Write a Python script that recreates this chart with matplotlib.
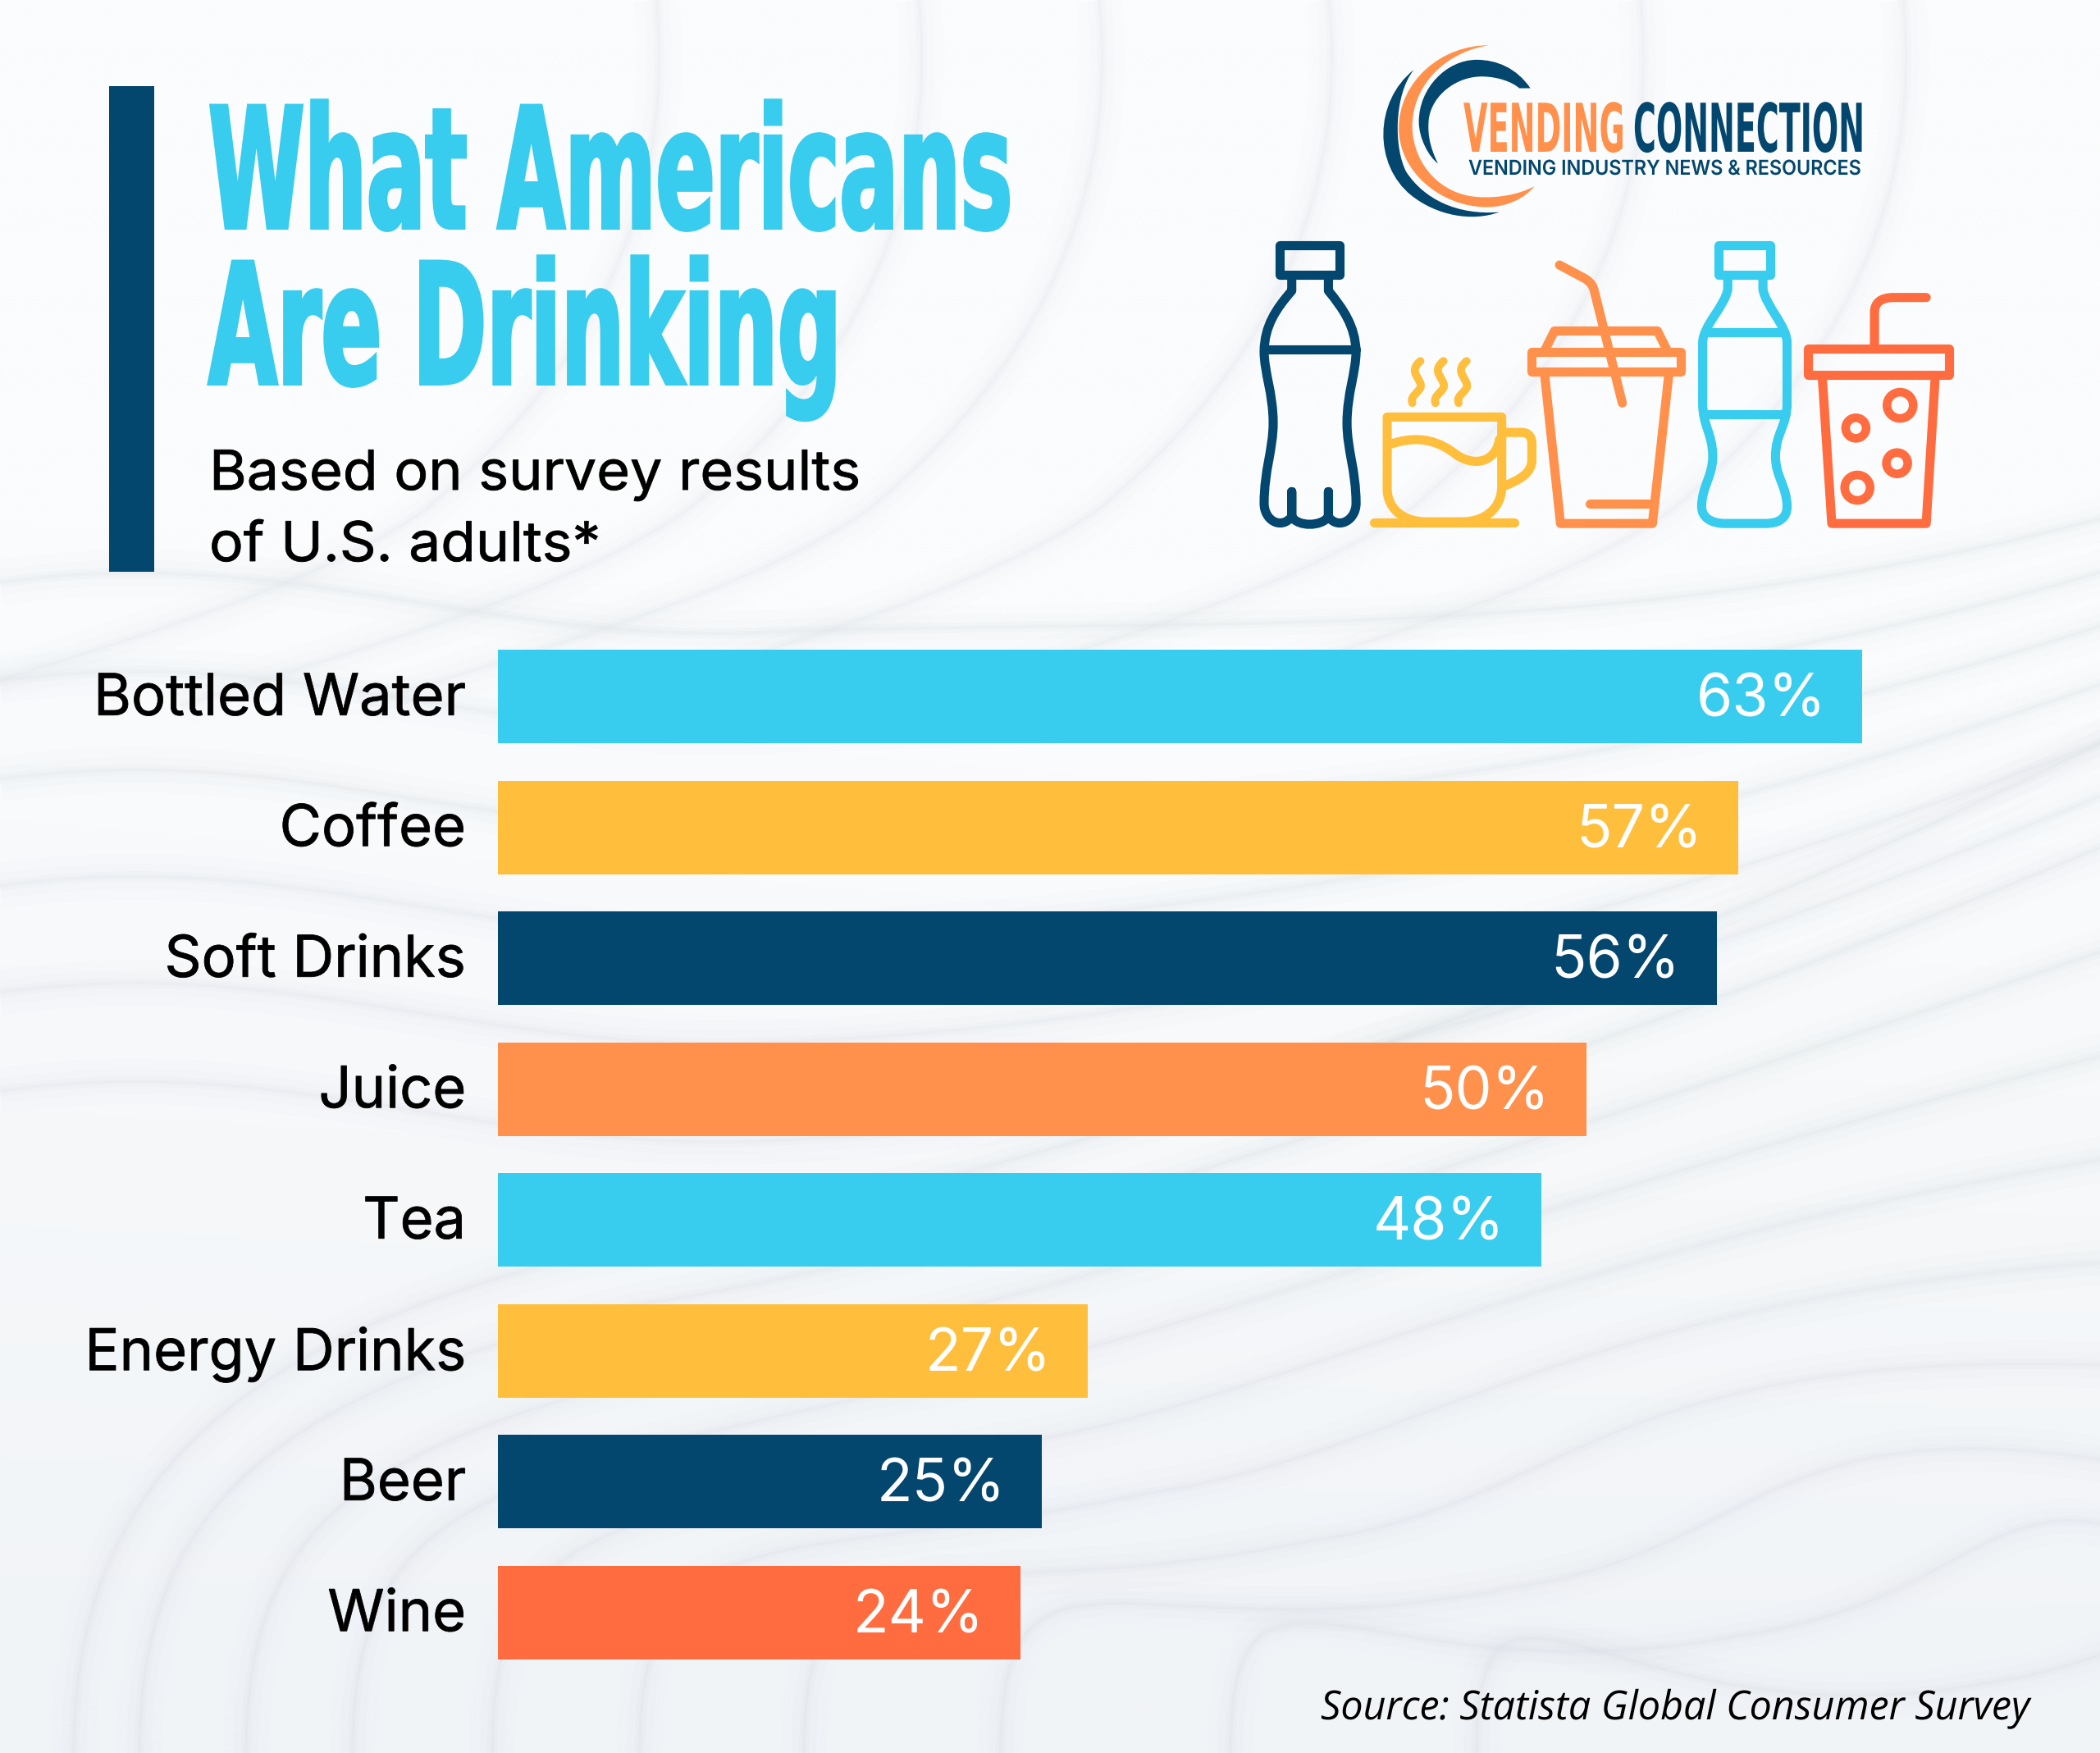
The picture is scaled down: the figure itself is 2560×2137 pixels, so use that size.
import matplotlib
matplotlib.use('Agg')
from matplotlib import pyplot as plt
from matplotlib.patches import PathPatch, Circle, Rectangle
from matplotlib.path import Path
from matplotlib.patheffects import AbstractPathEffect
from matplotlib.transforms import Affine2D, ScaledTranslation
import numpy as np

W, H = 2560, 2137

categories = ['Bottled Water', 'Coffee', 'Soft Drinks', 'Juice', 'Tea', 'Energy Drinks', 'Beer', 'Wine']
value_labels = ['63%', '57%', '56%', '50%', '48%', '27%', '25%', '24%']
# bar lengths as measured, the first bar is a little short of its label
values = [62.7, 57, 56, 50, 47.95, 27.1, 25, 24]
bar_colors = ['#38CCEE', '#FFBF3C', '#03466E', '#FF914D', '#38CCEE', '#FFBF3C', '#03466E', '#FF6C40']

NAVY = '#03466E'
CYAN = '#38CCEE'
YELLOW = '#FFBF3C'
ORANGE = '#FF914D'
RED = '#FF6C40'
BG = '#FAFBFC'
INK = '#000000'


class Squeeze(AbstractPathEffect):
    # stretches text around its anchor, and makes it a bit bolder if asked
    def __init__(self, x0=0, y0=0, sx=1, sy=1, grow=0):
        super().__init__()
        self.x0, self.y0, self.sx, self.sy, self.grow = x0, y0, sx, sy, grow

    def draw_path(self, renderer, gc, tpath, affine, rgbFace=None):
        tr = affine + (Affine2D().translate(-self.x0, -self.y0)
                       .scale(self.sx, self.sy).translate(self.x0, self.y0))
        gc0 = renderer.new_gc()
        gc0.copy_properties(gc)
        gc0.set_linewidth(self.grow * 0.72)
        gc0.set_foreground(rgbFace)
        gc0.set_joinstyle('miter')
        renderer.draw_path(gc0, tpath, tr, rgbFace)
        gc0.restore()


def fit_text(ax, x, y, s, width, px, color, family='Inter', weight='normal', style='normal', grow=0):
    # font size is set so the box has the right width, height comes from the stretch
    t = ax.text(x, y, s, fontsize=px * 0.72, color=color, family=family, weight=weight,
                style=style, ha='left', va='baseline')
    rend = fig.canvas.get_renderer()
    ratio = (width - grow) / t.get_window_extent(rend).width
    t.set_fontsize(px * 0.72 * ratio)
    rest = (width - grow) / t.get_window_extent(rend).width
    t.set_path_effects([Squeeze(x, H - y, rest, 1 / ratio, grow)])
    return t


def svg(d):
    # small reader for M L C commands
    tok = d.split()
    verts, codes = [], []
    i = 0
    while i < len(tok):
        c = tok[i]
        i += 1
        if c == 'Z':
            verts.append((0, 0))
            codes.append(Path.CLOSEPOLY)
        elif c in 'ML':
            verts.append((float(tok[i]), float(tok[i + 1])))
            codes.append(Path.MOVETO if c == 'M' else Path.LINETO)
            i += 2
        elif c == 'C':
            for k in range(3):
                verts.append((float(tok[i]), float(tok[i + 1])))
                codes.append(Path.CURVE4)
                i += 2
    return Path(verts, codes)


# icon drawings are measured on a 1.633 / 2.45 grid starting at 1500,30
zoom_tr = Affine2D().scale(1 / 1.633, 1 / 2.45).translate(1500, 30)


def stroke(ax, d, color, lw=8.0):
    p = svg(d).transformed(zoom_tr)
    ax.add_patch(PathPatch(p, fill=False, edgecolor=color, lw=lw, capstyle='round', joinstyle='round'))


def blob(ax, d, color):
    p = svg(d).transformed(zoom_tr)
    ax.add_patch(PathPatch(p, facecolor=color, edgecolor='none'))


def ring(ax, zx, zy, r, color):
    x, y = zoom_tr.transform((zx, zy))
    ax.add_patch(Circle((x, y), r, fill=False, edgecolor=color, lw=7.6))


def soft(ax, d, strength=1.0):
    p = svg(d)
    for lw, a in ((40, 0.05), (22, 0.08), (9, 0.12), (3, 0.2)):
        ax.add_patch(PathPatch(p, fill=False, edgecolor='#D9DEE5', lw=lw, alpha=a * strength, capstyle='butt'))


fig = plt.figure(figsize=(W / 100, H / 100), dpi=100, facecolor=BG)

back = fig.add_axes([0, 0, 1, 1], zorder=0)
# lighter at the top and to the right, greyer at the lower left
yy, xx = np.mgrid[0:1:200j, 0:1:240j]
shade = np.clip(yy * 1.5 - 0.45 - xx * 0.3 * (1 - yy), 0, 1)[..., None]
top_col = np.array([251, 252, 253]) / 255
low_col = np.array([241, 244, 247]) / 255
back.imshow(top_col * (1 - shade) + low_col * shade, extent=(0, W, H, 0), aspect='auto', interpolation='bilinear')
back.set_xlim(0, W)
back.set_ylim(H, 0)
back.axis('off')

# background waves: arcs from the lower left running out to the right
for k, bx in enumerate((90, 170, 300, 430, 600, 780, 980, 1220, 1500, 1800)):
    kx, ky = bx + 620, 1530 + k * 58
    soft(back, 'M %d 2137 C %d 1830 %d %d %d %d C %d %d %d %d 2800 %d' % (
        bx, bx, bx + 170, 1640 + k * 55, kx, ky,
        kx + 350, ky - 50, max(1950, kx + 300), ky - 280, 780 + k * 150))
# flat waves across the left side
for dy in (0, 120, 240, 370, 500, 620):
    soft(back, 'M 0 %d C 350 %d 600 %d 950 %d C 1500 %d 2100 %d 2800 %d' % (
        710 + dy, 660 + dy, 790 + dy, 770 + dy, 750 + dy, 800 + dy * 0.6, 560 + dy * 0.5), 0.9)
# sweeps coming down from the top edge
for dx in (0, 320, 540, 820, 1200, 1520):
    soft(back, 'M %d 0 C %d 200 %d 420 %d 620 C %d 720 %d 790 %d 860' % (
        800 + dx, 820 + dx, 760 + dx, 520 + dx, 380 + dx, 120 + dx, -100 + dx), 0.7)

# bar chart: 26.53 px per percent, 159.5 px per row
left, top = 607, 769.5
ax = fig.add_axes([left / W, 1 - (top + 8 * 159.5) / H, 70 * 26.53 / W, 8 * 159.5 / H], zorder=1)
ax.patch.set_alpha(0)
ypos = list(range(len(categories)))
ax.barh(ypos, values, height=0.715, color=bar_colors)
ax.set_xlim(0, 70)
ax.set_ylim(len(categories) - 0.5, -0.5)
ax.set_xticks([])
ax.set_yticks(ypos)
ax.set_yticklabels(categories, fontsize=50.6, family='Inter', color=INK)
ax.tick_params(axis='y', length=0, pad=28)
for lab in ax.get_yticklabels():
    lab.set_transform(lab.get_transform() + ScaledTranslation(0, 3 / 100, fig.dpi_scale_trans))
    lab.set_path_effects([Squeeze(grow=0.8)])
for s in ax.spines.values():
    s.set_visible(False)
for y, v, lab in zip(ypos, values, value_labels):
    ax.annotate(lab, (v, y), xytext=(-32, -4), textcoords='offset points',
                ha='right', va='center', color='white', fontsize=51.5, family='Inter')

# header, logo and icons on top
over = fig.add_axes([0, 0, 1, 1], zorder=2)
over.set_xlim(0, W)
over.set_ylim(H, 0)
over.axis('off')
over.patch.set_alpha(0)

over.add_patch(Rectangle((133, 105), 55, 592, color=NAVY, lw=0))

fit_text(over, 254, 278, 'What Americans', 984, 205, CYAN, 'DejaVu Sans', 'bold', grow=4)
fit_text(over, 254, 468, 'Are Drinking', 776, 205, CYAN, 'DejaVu Sans', 'bold', grow=4)
fit_text(over, 255, 597, 'Based on survey results', 795, 67, INK, grow=0.8)
fit_text(over, 255, 684, 'of U.S. adults*', 478, 67, INK, grow=0.8)

# logo
blob(over, 'M 365 135 C 285 230 285 420 360 510 C 410 570 480 590 535 560 C 450 570 385 520 350 440 C 325 370 325 210 365 135 Z', NAVY)
blob(over, 'M 515 62 C 420 60 335 170 335 310 C 335 440 420 545 510 545 C 550 545 585 520 605 483 C 570 510 530 518 495 515 C 420 510 365 420 362 310 C 360 180 430 80 515 62 Z', ORANGE)
blob(over, 'M 597 190 C 570 130 530 105 490 105 C 430 105 375 190 375 290 C 375 340 395 395 413 415 C 395 360 392 320 395 280 C 402 210 450 155 500 155 C 530 155 560 170 575 190 Z', NAVY)
fit_text(over, 1784, 185, 'VENDING', 197, 82, ORANGE, 'DejaVu Sans', 'bold')
fit_text(over, 1991, 185, 'CONNECTION', 282, 82, NAVY, 'DejaVu Sans', 'bold')
fit_text(over, 1790, 213, 'VENDING INDUSTRY NEWS & RESOURCES', 480, 25, NAVY, 'Inter', 'semibold')

# navy bottle
stroke(over, 'M 98 658 L 218 658 L 218 747 L 98 747 Z', NAVY)
stroke(over, 'M 122 750 L 122 795 C 90 850 68 900 67 975 C 67 1040 85 1100 85 1190 C 85 1270 67 1330 67 1430 C 67 1480 100 1510 122 1470 L 122 1395 L 122 1470 C 135 1500 180 1500 195 1470 L 195 1395 L 195 1470 C 215 1510 250 1480 250 1430 C 250 1330 232 1270 232 1190 C 232 1100 250 1040 250 975 C 248 900 225 850 195 795 L 195 750', NAVY)
stroke(over, 'M 67 970 L 250 970', NAVY)

# coffee cup
stroke(over, 'M 312 1172 L 540 1172 L 540 1380 C 540 1440 510 1485 460 1485 L 390 1485 C 340 1485 310 1440 312 1380 Z', YELLOW)
stroke(over, 'M 285 1487 L 565 1487', YELLOW)
stroke(over, 'M 545 1218 L 580 1218 C 595 1218 600 1235 600 1250 L 600 1300 C 600 1340 575 1360 545 1378', YELLOW)
stroke(over, 'M 315 1255 C 380 1220 420 1250 450 1285 C 490 1325 530 1300 535 1240', YELLOW)
for dx in (0, 46, 92):
    stroke(over, 'M %d 1005 C %d 1040 %d 1060 %d 1085 C %d 1105 %d 1110 %d 1130' % (
        378 + dx, 350 + dx, 385 + dx, 378 + dx, 370 + dx, 358 + dx, 362 + dx), YELLOW, 7.0)

# takeaway cup
stroke(over, 'M 600 978 L 897 978 L 897 1037 L 600 1037 Z', ORANGE)
stroke(over, 'M 625 975 L 645 915 L 850 915 L 870 975', ORANGE)
stroke(over, 'M 625 1040 L 657 1490 L 840 1490 L 873 1040', ORANGE)
stroke(over, 'M 715 1430 L 835 1430', ORANGE)
stroke(over, 'M 655 718 L 705 758 C 718 770 722 780 725 800 L 780 1130', ORANGE)

# cyan bottle
stroke(over, 'M 972 658 L 1075 658 L 1075 747 L 972 747 Z', CYAN)
stroke(over, 'M 990 750 L 990 790 C 985 840 940 900 940 950 L 940 1130 C 940 1200 960 1220 960 1290 C 960 1350 938 1380 938 1440 C 938 1470 955 1490 985 1490 L 1065 1490 C 1095 1490 1108 1470 1108 1440 C 1108 1380 1085 1350 1085 1290 C 1085 1220 1108 1200 1108 1130 L 1108 950 C 1108 900 1065 840 1060 790 L 1060 750', CYAN)
stroke(over, 'M 945 918 L 1100 918', CYAN)
stroke(over, 'M 945 1163 L 1100 1163', CYAN)

# soda cup
stroke(over, 'M 1150 968 L 1430 968 L 1430 1045 L 1150 1045 Z', RED)
stroke(over, 'M 1178 1050 L 1197 1490 L 1385 1490 L 1403 1050', RED)
stroke(over, 'M 1282 960 L 1282 860 C 1282 830 1295 815 1320 815 L 1385 815', RED)
ring(over, 1333, 1137, 16, RED)
ring(over, 1245, 1205, 12.5, RED)
ring(over, 1327, 1310, 13, RED)
ring(over, 1248, 1383, 15.5, RED)

fit_text(over, 1610, 2096, 'Source: Statista Global Consumer Survey', 865, 49, INK, 'Open Sans', style='italic')

fig.savefig('out.png', dpi=100, facecolor=BG)
